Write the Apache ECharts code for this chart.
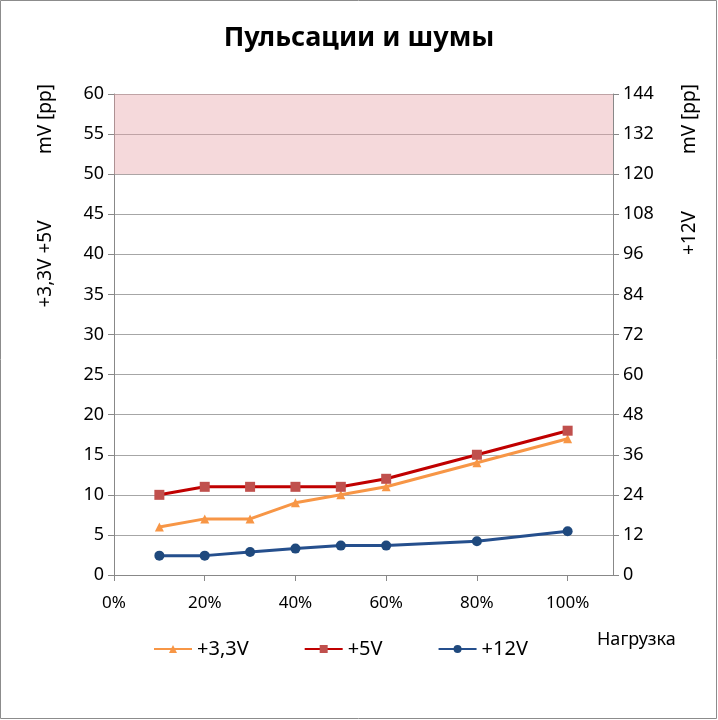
<!DOCTYPE html>
<html>
<head>
<meta charset="utf-8">
<script src="https://cdn.jsdelivr.net/npm/echarts@6/dist/echarts.min.js"></script>
<style>
  html, body { margin: 0; padding: 0; background: #fff; }
  #chart { width: 718px; height: 720px; }
</style>
</head>
<body>
<div id="chart"></div>
<script>
// нагрузка, %
var loads = [10, 20, 30, 40, 50, 60, 80, 100];
// пульсации, mV [pp]
var v33 = [6, 7, 7, 9, 10, 11, 14, 17];
var v5 = [10, 11, 11, 11, 11, 12, 15, 18];
var v12 = [5.8, 5.8, 6.9, 7.9, 8.8, 8.8, 10.1, 13.1];
var limitBand = [50, 60]; // на левой оси

function pairs(xs, ys) {
    return xs.map(function (x, i) { return [x, ys[i]]; });
}

var font = 'Noto Sans';
var myChart = echarts.init(document.getElementById('chart'));

function vText(x, y, txt) {
    return {
        type: 'text',
        x: x, y: y,
        rotation: Math.PI / 2,
        style: { text: txt, font: '19px "Noto Sans"', fill: '#000', align: 'center', verticalAlign: 'middle' }
    };
}

var option = {
    animation: false,
    textStyle: { fontFamily: font },
    title: {
        text: 'Пульсации и шумы',
        left: 'center',
        top: 20,
        textStyle: { fontFamily: font, fontSize: 27, fontWeight: 'bold', color: '#000' }
    },
    legend: {
        bottom: 56,
        left: 148,
        itemGap: 55,
        itemWidth: 38,
        itemHeight: 10,
        textStyle: { fontFamily: font, fontSize: 20, color: '#000' },
        data: ['+3,3V', '+5V', '+12V']
    },
    grid: { left: 114, right: 105, top: 94, bottom: 145 },
    xAxis: {
        type: 'value',
        min: 0,
        max: 110,
        interval: 20,
        axisLine: { lineStyle: { color: '#888', width: 1 } },
        axisTick: { show: true, length: 6, lineStyle: { color: '#888' } },
        axisLabel: { formatter: '{value}%', fontSize: 17, color: '#000', margin: 20, showMaxLabel: false },
        splitLine: { show: false }
    },
    yAxis: [
        {
            type: 'value',
            min: 0,
            max: 60,
            interval: 5,
            axisLine: { show: true, lineStyle: { color: '#888' } },
            axisTick: { show: true, length: 6, lineStyle: { color: '#888' } },
            axisLabel: { fontSize: 18, color: '#000', margin: 10 },
            splitLine: { lineStyle: { color: '#a6a6a6', width: 1 } }
        },
        {
            type: 'value',
            min: 0,
            max: 144,
            interval: 12,
            position: 'right',
            axisLine: { show: true, lineStyle: { color: '#888' } },
            axisTick: { show: true, length: 6, lineStyle: { color: '#888' } },
            axisLabel: { fontSize: 18, color: '#000', margin: 10 },
            splitLine: { show: false }
        }
    ],
    series: [
        {
            name: '+3,3V',
            type: 'line',
            yAxisIndex: 0,
            data: pairs(loads, v33),
            symbol: 'triangle',
            symbolSize: 9,
            lineStyle: { color: '#f79646', width: 3 },
            itemStyle: { color: '#f79646' },
            markArea: {
                silent: true,
                itemStyle: { color: 'rgba(230,160,165,0.4)' },
                data: [[{ yAxis: limitBand[0] }, { yAxis: limitBand[1] }]]
            },
            z: 3
        },
        {
            name: '+5V',
            type: 'line',
            yAxisIndex: 0,
            data: pairs(loads, v5),
            symbol: 'rect',
            symbolSize: 10,
            lineStyle: { color: '#c00000', width: 3 },
            itemStyle: { color: '#c0504d' },
            z: 4
        },
        {
            name: '+12V',
            type: 'line',
            yAxisIndex: 1,
            data: pairs(loads, v12),
            symbol: 'circle',
            symbolSize: 10,
            lineStyle: { color: '#254f8d', width: 3 },
            itemStyle: { color: '#1f497d' },
            z: 2
        }
    ],
    graphic: [
        {
            type: 'rect',
            shape: { x: 0.5, y: 0.5, width: 716, height: 718 },
            style: { fill: 'none', stroke: '#8c8c8c', lineWidth: 1 },
            silent: true
        },
        vText(46, 119, 'mV [pp]'),
        vText(46, 264, '+3,3V +5V'),
        vText(690, 119, 'mV [pp]'),
        vText(690, 233, '+12V'),
        {
            type: 'text',
            x: 597, y: 640,
            style: { text: 'Нагрузка', font: '18px "Noto Sans"', fill: '#000', verticalAlign: 'middle' }
        }
    ]
};

myChart.setOption(option);
</script>
</body>
</html>
